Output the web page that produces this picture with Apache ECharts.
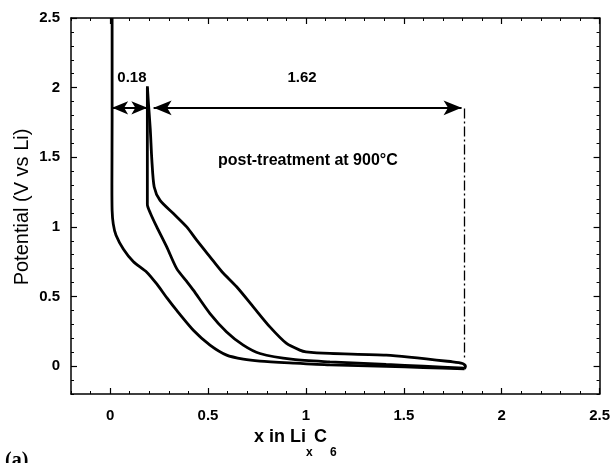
<!DOCTYPE html>
<html><head><meta charset="utf-8">
<script src="https://cdn.jsdelivr.net/npm/echarts@6/dist/echarts.min.js"></script>
<style>html,body{margin:0;padding:0;background:#fff}#c{width:613px;height:463px}</style>
</head><body><div id="c"></div>
<script>
// ---- data (x in LixC6, potential V vs Li) ----
const firstDischarge = [
  [0.01,2.5],[0.01,1.77],[0.009,1.3],[0.01,1.12],[0.016,1.02],[0.03,0.94],[0.068,0.84],[0.119,0.75],
  [0.187,0.675],[0.238,0.59],[0.29,0.49],[0.34,0.40],[0.425,0.258],[0.51,0.151],
  [0.595,0.079],[0.68,0.05],[0.765,0.036],[0.935,0.022],[1.122,0.009],[1.41,-0.002],
  [1.6,-0.01],[1.81,-0.02]
];
const charge = [
  [1.81,-0.02],[1.815,0.0],[1.80,0.019],[1.75,0.031],[1.41,0.079],[1.122,0.091],
  [1.0,0.103],[0.969,0.115],[0.901,0.163],[0.816,0.282],[0.731,0.426],[0.646,0.57],
  [0.57,0.68],[0.51,0.785],[0.442,0.905],[0.391,1.0],[0.323,1.096],[0.255,1.19],
  [0.225,1.287],[0.213,1.48],[0.205,1.7],[0.195,1.9],[0.19,2.01]
];
const secondDischarge = [
  [0.19,2.0],[0.19,1.6],[0.19,1.16],[0.205,1.1],[0.238,1.0],[0.289,0.856],[0.34,0.70],[0.39,0.61],
  [0.425,0.546],[0.51,0.378],[0.595,0.246],[0.68,0.151],[0.765,0.091],[0.935,0.048],
  [1.122,0.031],[1.41,0.012],[1.6,0.0],[1.81,-0.015]
];
const xTicks = [0, 0.5, 1, 1.5, 2, 2.5];
const yTicks = [0, 0.5, 1, 1.5, 2, 2.5];
const irreversibleSpan = [0.01, 0.19];
const reversibleSpan = [0.222, 1.795];
const arrowLevel = 1.855;
const cutoffLine = [[1.81, 1.85], [1.81, 0.05]];
const spanLabels = [
  { text: '0.18', at: [0.111, 2.067] },
  { text: '1.62', at: [0.98, 2.067] },
  { text: 'post-treatment at 900°C', at: [1.01, 1.479] }
];

const FONT = 'Liberation Sans, Arial, sans-serif';
const XMIN = -0.2, XMAX = 2.5, YMIN = -0.2, YMAX = 2.5;

function minorAxis(pos, min, max) {
  return {
    type: 'value', position: pos, min: min, max: max, interval: 0.1,
    axisLine: { show: true, onZero: false, lineStyle: { color: '#000', width: 1.5 } },
    axisTick: { show: true, inside: true, length: 3, lineStyle: { color: '#000', width: 1 } },
    axisLabel: { show: false }, splitLine: { show: false }
  };
}
function majorAxis(pos, min, max, ticks, labels, margin) {
  return {
    type: 'value', position: pos, min: min, max: max,
    axisLine: { show: false, onZero: false },
    axisTick: { show: true, inside: true, length: 6, customValues: ticks, lineStyle: { color: '#000', width: 1.2 } },
    axisLabel: labels ? { show: true, customValues: ticks, color: '#000', fontFamily: FONT, fontWeight: 'bold', fontSize: 15, margin: margin } : { show: false },
    splitLine: { show: false }
  };
}

const chart = echarts.init(document.getElementById('c'), null, { renderer: 'canvas' });
const lineStyle = { color: '#000', width: 2.8 };
const option = {
  animation: false,
  backgroundColor: '#fff',
  grid: { left: 71, top: 18, width: 529, height: 376, containLabel: false },
  xAxis: [
    minorAxis('bottom', XMIN, XMAX),
    majorAxis('bottom', XMIN, XMAX, xTicks, true, 14),
    minorAxis('top', XMIN, XMAX),
    majorAxis('top', XMIN, XMAX, xTicks, false, 0)
  ],
  yAxis: [
    minorAxis('left', YMIN, YMAX),
    majorAxis('left', YMIN, YMAX, yTicks, true, 11),
    minorAxis('right', YMIN, YMAX),
    majorAxis('right', YMIN, YMAX, yTicks, false, 0)
  ],
  series: [
    { type: 'line', data: firstDischarge, showSymbol: false, symbol: 'none', smooth: 0.25, lineStyle: lineStyle, clip: true },
    { type: 'line', data: charge, showSymbol: false, symbol: 'none', smooth: 0.25, lineStyle: lineStyle, clip: true },
    { type: 'line', data: secondDischarge, showSymbol: false, symbol: 'none', smooth: 0.25, lineStyle: lineStyle, clip: true },
    {
      type: 'line', data: [], silent: true,
      markLine: {
        silent: true, animation: false,
        label: { show: false },
        data: [
          [
            { coord: [irreversibleSpan[0], arrowLevel], symbol: 'arrow', symbolSize: [10, 16], lineStyle: { color: '#000', width: 2, type: 'solid' } },
            { coord: [irreversibleSpan[1], arrowLevel], symbol: 'arrow', symbolSize: [10, 16] }
          ],
          [
            { coord: [reversibleSpan[0], arrowLevel], symbol: 'arrow', symbolSize: [11, 18], lineStyle: { color: '#000', width: 2, type: 'solid' } },
            { coord: [reversibleSpan[1], arrowLevel], symbol: 'arrow', symbolSize: [11, 18] }
          ],
          [
            { coord: cutoffLine[0], symbol: 'none', lineStyle: { color: '#000', width: 1.3, type: [10, 3, 2, 3] } },
            { coord: cutoffLine[1], symbol: 'none' }
          ]
        ]
      },
      markPoint: {
        silent: true, animation: false,
        symbol: 'circle', symbolSize: 0,
        data: spanLabels.map(function (d) {
          return {
            coord: d.at, value: d.text,
            label: {
              show: true, position: 'inside', formatter: d.text, color: '#000',
              fontFamily: FONT, fontWeight: 'bold', fontSize: d.text.length > 6 ? 16 : 15
            }
          };
        })
      }
    }
  ],
  graphic: [
    { type: 'text', x: 22, y: 207, rotation: Math.PI / 2,
      style: { text: 'Potential (V vs Li)', font: '20px ' + FONT, fill: '#000', align: 'center', verticalAlign: 'middle' } },
    { type: 'text', x: 254, y: 437, style: { text: 'x in Li', font: 'bold 18px ' + FONT, fill: '#000', align: 'left', verticalAlign: 'middle' } },
    { type: 'text', x: 306, y: 453, style: { text: 'x', font: 'bold 12px ' + FONT, fill: '#000', align: 'left', verticalAlign: 'middle' } },
    { type: 'text', x: 314, y: 437, style: { text: 'C', font: 'bold 18px ' + FONT, fill: '#000', align: 'left', verticalAlign: 'middle' } },
    { type: 'text', x: 330, y: 453, style: { text: '6', font: 'bold 12px ' + FONT, fill: '#000', align: 'left', verticalAlign: 'middle' } },
    { type: 'text', x: 5, y: 461, style: { text: '(a)', font: 'bold 20px Liberation Serif, Times New Roman, serif', fill: '#000', align: 'left', verticalAlign: 'middle' } }
  ]
};
chart.setOption(option);
</script>
</body></html>
